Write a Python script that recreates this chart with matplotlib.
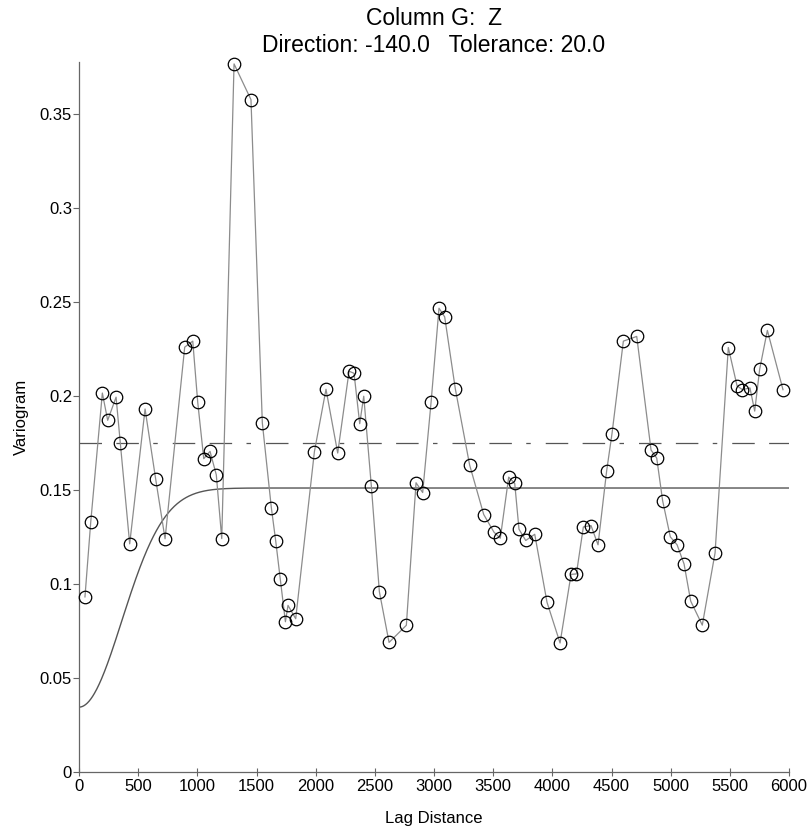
import matplotlib
matplotlib.use('Agg')
import matplotlib.pyplot as plt
import numpy as np

plt.rcParams['font.family'] = ['Liberation Sans', 'DejaVu Sans']

# experimental variogram (lag distance, semivariance)
lag = [50, 99, 197, 242, 313, 349, 428, 558, 648, 727,
       893, 961, 1003, 1054, 1107, 1160, 1206, 1310, 1453, 1549,
       1625, 1662, 1701, 1744, 1766, 1831, 1989, 2087, 2186, 2282,
       2324, 2372, 2406, 2470, 2538, 2620, 2766, 2848, 2904, 2975,
       3042, 3090, 3180, 3301, 3420, 3507, 3560, 3631, 3682, 3718,
       3775, 3851, 3955, 4065, 4158, 4203, 4262, 4327, 4386, 4459,
       4504, 4600, 4713, 4834, 4882, 4932, 4997, 5054, 5113, 5169,
       5267, 5375, 5487, 5561, 5606, 5670, 5710, 5752, 5817, 5949]
gamma = [0.0931, 0.133, 0.2015, 0.187, 0.1993, 0.1747, 0.1213, 0.193, 0.1556, 0.124,
         0.2259, 0.2291, 0.1966, 0.1666, 0.1705, 0.158, 0.1241, 0.3765, 0.3575, 0.1856,
         0.1406, 0.1229, 0.1024, 0.0799, 0.0886, 0.0815, 0.1703, 0.2035, 0.1696, 0.2131,
         0.212, 0.1852, 0.1998, 0.1522, 0.0959, 0.0689, 0.078, 0.1538, 0.1486, 0.1966,
         0.2466, 0.242, 0.2037, 0.1632, 0.1369, 0.1275, 0.1243, 0.1568, 0.1534, 0.1291,
         0.1231, 0.1264, 0.0902, 0.0686, 0.1051, 0.1053, 0.1303, 0.131, 0.1208, 0.1602,
         0.1799, 0.2291, 0.2316, 0.1712, 0.1669, 0.1442, 0.125, 0.1208, 0.1106, 0.0909,
         0.0781, 0.1165, 0.2257, 0.2053, 0.2033, 0.2042, 0.1919, 0.2142, 0.2348, 0.2033]

# sample variance and fitted gaussian model
variance = 0.1748
nugget = 0.0345
partial_sill = 0.1165
model_range = 885.0

h = np.linspace(0, 6000, 1201)
model = nugget + partial_sill * (1 - np.exp(-3 * h**2 / model_range**2))

fig = plt.figure(figsize=(8.09, 8.27), dpi=100)
ax = fig.add_axes([0.0977, 0.0665, 0.8776, 0.8585])

ax.plot(lag, gamma, '-', color='#8c8c8c', lw=0.9, zorder=2)
ax.plot(lag, gamma, 'o', ms=9, mfc='none', mec='black', mew=0.9, zorder=3, clip_on=False)
ax.plot(h, model, '-', color='#555555', lw=1.0, zorder=1)
ax.axhline(variance, color='#555555', lw=0.9, dashes=[18, 11.5, 18, 11.5, 3.6, 12], zorder=1)

ax.set_xlim(0, 6000)
ax.set_ylim(0, 0.3775)
ax.set_xticks(np.arange(0, 6001, 500))
ax.set_yticks([0, 0.05, 0.1, 0.15, 0.2, 0.25, 0.3, 0.35])
ax.set_yticklabels(['0', '0.05', '0.1', '0.15', '0.2', '0.25', '0.3', '0.35'])

for s in ['top', 'right']:
    ax.spines[s].set_visible(False)
for s in ['left', 'bottom']:
    ax.spines[s].set_color('#666666')
    ax.spines[s].set_linewidth(0.9)

ax.tick_params(axis='x', direction='inout', length=6, width=0.8, color='#666666',
               labelsize=12, pad=2)
ax.tick_params(axis='y', direction='out', length=4, width=0.8, color='#666666',
               labelsize=12, pad=1)

ax.set_xlabel('Lag Distance', fontsize=12, labelpad=12)
ax.set_ylabel('Variogram', fontsize=12, labelpad=8)

fig.text(0.5365, 0.9775, 'Column G:  Z', ha='center', va='center', fontsize=16.5)
fig.text(0.5365, 0.9455, 'Direction: -140.0   Tolerance: 20.0', ha='center', va='center',
         fontsize=16.5)

fig.savefig('out.png', dpi=100)
